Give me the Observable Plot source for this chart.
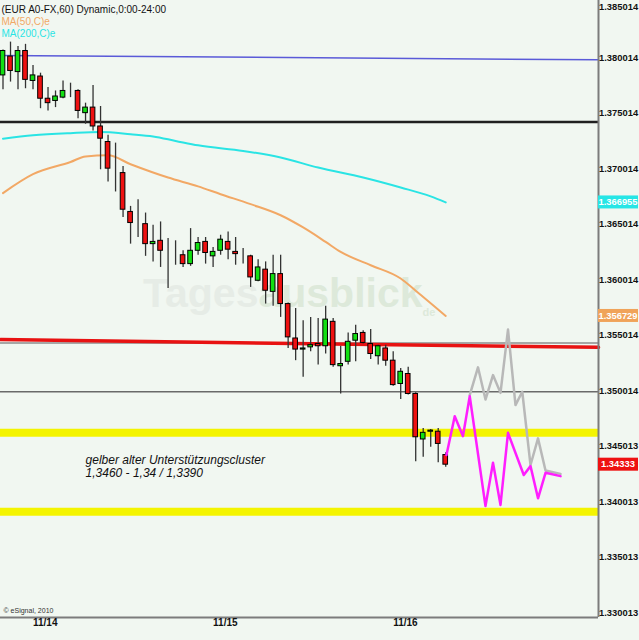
<!DOCTYPE html>
<html><head><meta charset="utf-8">
<script src="https://cdn.jsdelivr.net/npm/d3@7"></script>
<script src="https://cdn.jsdelivr.net/npm/@observablehq/plot@0.6"></script>
<style>
html,body{margin:0;padding:0;background:#f1f7f1;}
#wrap{position:relative;width:639px;height:640px;overflow:hidden;font-family:"Liberation Sans",Arial,sans-serif;}
.wm{position:absolute;left:143px;top:270px;font:bold 41px "Liberation Sans",Arial,sans-serif;color:#e6ece6;white-space:nowrap;}
.wm span{color:#dde9da;}
.wm sub{font-size:11px;color:#dde9da;}
#chart{position:absolute;left:0;top:0;}
</style></head><body>
<div id="wrap">
  <div class="wm">Tages<span>ausblick</span><sub>de</sub></div>
  <div id="chart"></div>
</div>
<script>
// ---- candles (hourly, EUR/USD) ----
const opens  = [1.3784,1.3801,1.3787,1.3806,1.3779,1.3783,1.3763,1.3761,1.3764,1.3770,
                1.3770,1.3750,1.3755,1.3738,1.3724,1.3700,1.3696,1.3661,1.3651,1.3650,
                1.3632,1.3635,1.3623,1.3623,1.3622,1.3614,1.3626,1.3634,1.3621,1.3626,
                1.3634,1.3625,1.3621,1.3621,1.3599,1.3609,1.3589,1.3605,1.3578,1.3547,
                1.3537,1.3539,1.3542,1.3540,1.3562,1.3522,1.3526,1.3545,1.3552,1.3542,
                1.3531,1.3538,1.3527,1.3506,1.3515,1.3497,1.3456,1.3463,1.3463,1.3442];
const highs  = [1.3807,1.3814,1.3810,1.3812,1.3793,1.3786,1.3773,1.3770,1.3779,1.3777,
                1.3771,1.3759,1.3775,1.3756,1.3730,1.3723,1.3702,1.3666,1.3672,1.3660,
                1.3649,1.3652,1.3637,1.3635,1.3626,1.3646,1.3638,1.3638,1.3629,1.3640,
                1.3643,1.3638,1.3628,1.3622,1.3618,1.3616,1.3622,1.3622,1.3579,1.3574,
                1.3563,1.3566,1.3565,1.3576,1.3565,1.3540,1.3552,1.3559,1.3554,1.3555,
                1.3541,1.3541,1.3535,1.3520,1.3521,1.3498,1.3466,1.3465,1.3466,1.3444];
const lows   = [1.3771,1.3778,1.3771,1.3772,1.3771,1.3754,1.3752,1.3755,1.3763,1.3764,
                1.3745,1.3740,1.3734,1.3699,1.3688,1.3679,1.3656,1.3632,1.3638,1.3621,
                1.3616,1.3611,1.3592,1.3613,1.3611,1.3612,1.3622,1.3614,1.3611,1.3622,
                1.3618,1.3613,1.3614,1.3593,1.3598,1.3578,1.3576,1.3566,1.3538,1.3527,
                1.3512,1.3535,1.3523,1.3533,1.3521,1.3497,1.3523,1.3526,1.3542,1.3528,
                1.3523,1.3522,1.3504,1.3492,1.3496,1.3436,1.3440,1.3449,1.3435,1.3431];
const closes = [1.3806,1.3788,1.3806,1.3780,1.3784,1.3763,1.3759,1.3765,1.3770,1.3770,
                1.3752,1.3755,1.3738,1.3727,1.3700,1.3700,1.3663,1.3651,1.3651,1.3632,
                1.3634,1.3626,1.3623,1.3623,1.3614,1.3626,1.3633,1.3624,1.3625,1.3636,
                1.3627,1.3623,1.3621,1.3602,1.3611,1.3590,1.3605,1.3578,1.3548,1.3537,
                1.3538,1.3541,1.3540,1.3564,1.3523,1.3524,1.3544,1.3551,1.3543,1.3533,
                1.3540,1.3527,1.3505,1.3517,1.3497,1.3458,1.3462,1.3464,1.3452,1.34333];

// ---- moving averages (read points, bar index -> value) ----
const ma50Bars  = [0,4,9,11,14,17,22,26,29,33,37,40,43,45,49,53,55,59];
const ma50Vals  = [1.3678,1.3695,1.3706,1.3711,1.3712,1.3704,1.3692,1.3684,1.3677,1.3668,
                   1.3658,1.3647,1.3634,1.3625,1.3613,1.3601,1.3590,1.356729];
const ma200Bars = [0,4,9,13,17,20,23,26,32,37,42,48,53,57,59];
const ma200Vals = [1.3727,1.3730,1.3732,1.3733,1.3731,1.3729,1.3725,1.3721,1.3716,1.3710,
                   1.3701,1.3692,1.3683,1.3675,1.366955];

// ---- hand-drawn projections ----
const magentaBars = [59.1,60.2,61.3,62.2,64.3,65.3,66.3,67.3,69.4,70.3,71.3,72.3,74.3];
const magentaVals = [1.3442,1.3477,1.3459,1.3495,1.3396,1.3435,1.3397,1.3462,1.3424,1.3432,1.3403,1.3426,1.3423];
const greyBars    = [62.2,63.3,64.3,65.3,66.3,67.3,68.3,69.2,70.3,71.3,72.3,74.3];
const greyVals    = [1.3496,1.3521,1.3492,1.3514,1.3498,1.3555,1.3487,1.3499,1.3433,1.3457,1.3428,1.3425];

// ---- horizontal levels ----
const yellowLevels   = [1.3462, 1.3391];
const blackLevel     = [1.3742];
const greyLevel      = [1.3543];
const darkGreyLevel  = [1.3499];
const blueLineVals   = [1.3802, 1.3798];   // left, right
const redLineVals    = [1.3546, 1.3539];   // left, right

// ---- axes ----
const viewBars = [-1/3, 79.36];
const priceRange = [1.329563, 1.385149];
const yTickLabels = ["1.385014","1.380014","1.375014","1.370014","1.365014","1.360014",
                     "1.355014","1.350014","1.345013","1.340013","1.335013","1.330013"];
const xTickBars = [4, 28, 52];
const xTickLabels = ["11/14", "11/15", "11/16"];

// ---- text ----
const legendLines = ["(EUR A0-FX,60) Dynamic,0:00-24:00", "MA(50,C)e", "MA(200,C)e"];
const legendColors = ["#111111", "#f2a865", "#2ae4e4"];
const noteText = "gelber alter Unterstützungscluster\n1,3460 - 1,34 / 1,3390";
const noteAnchor = {bar: 11, price: 1.34318};
const copyright = "© eSignal, 2010";
const priceTags = [
  {value: 1.366955, label: "1.366955", color: "#26e6e6"},
  {value: 1.356729, label: "1.356729", color: "#f0a35a"},
  {value: 1.34333,  label: "1.34333",  color: "#ee1111"}
];

const candles = opens.map((o, i) => ({i, o, h: highs[i], l: lows[i], c: closes[i]}));
const line = (xs, ys) => xs.map((x, k) => ({x, y: ys[k]}));
const font = '"Liberation Sans", Arial, sans-serif';

const yTicks = yTickLabels.map(Number);
const tickFont = {fontSize: 9.4, fontWeight: "bold", fill: "#111"};

const chart = Plot.plot({
  width: 639, height: 640,
  marginLeft: 0, marginRight: 41, marginTop: 0, marginBottom: 23,
  x: {domain: viewBars, axis: null},
  y: {domain: priceRange, axis: null},
  style: {background: "transparent", fontFamily: font, overflow: "visible"},
  marks: [
    Plot.ruleY(yellowLevels, {stroke: "#f4f400", strokeWidth: 8}),
    Plot.ruleY(greyLevel, {stroke: "#8c8c8c", strokeWidth: 1.5}),
    Plot.ruleY(darkGreyLevel, {stroke: "#6a6a6a", strokeWidth: 1.5}),
    Plot.ruleY(blackLevel, {stroke: "#202020", strokeWidth: 2.5}),
    Plot.line(line(viewBars, blueLineVals), {x: "x", y: "y", stroke: "#5a5ad8", strokeWidth: 1.5}),
    Plot.line(line(viewBars, redLineVals), {x: "x", y: "y", stroke: "#e81212", strokeWidth: 3.5}),
    Plot.line(line(ma50Bars, ma50Vals), {x: "x", y: "y", stroke: "#f2a865", strokeWidth: 2, curve: "monotone-x"}),
    Plot.line(line(ma200Bars, ma200Vals), {x: "x", y: "y", stroke: "#2ae4e4", strokeWidth: 2, curve: "monotone-x"}),
    Plot.ruleX(candles, {x: "i", y1: "l", y2: "h", stroke: "#333", strokeWidth: 1.3}),
    Plot.rect(candles, {
      x1: d => d.i - 0.31, x2: d => d.i + 0.31,
      y1: "o", y2: "c",
      fill: d => d.c > d.o ? "#12e012" : d.c < d.o ? "#ee1111" : "#000",
      stroke: "#000", strokeWidth: 1
    }),
    Plot.line(line(greyBars, greyVals), {x: "x", y: "y", stroke: "#b8b8b8", strokeWidth: 2.5}),
    Plot.line(line(magentaBars, magentaVals), {x: "x", y: "y", stroke: "#ff1eff", strokeWidth: 2.5}),
    Plot.text([noteText], {x: () => noteAnchor.bar, y: () => noteAnchor.price, text: d => d,
      textAnchor: "start", fontSize: 12, fontStyle: "italic", lineHeight: 1.12, fill: "#111"}),
    Plot.ruleX([viewBars[1]], {stroke: "#7c7c7c", strokeWidth: 2}),
    Plot.ruleY([priceRange[0]], {stroke: "#7c7c7c", strokeWidth: 2}),
    Plot.text(yTicks.slice(1), {y: d => d, text: (d, k) => yTickLabels[k + 1], frameAnchor: "right",
      dx: 0.5, textAnchor: "start", ...tickFont}),
    Plot.text(yTicks.slice(0, 1), {y: d => d, text: () => yTickLabels[0], frameAnchor: "right",
      dx: 0.5, dy: 4.5, textAnchor: "start", ...tickFont}),
    Plot.text(xTickBars, {x: d => d, text: (d, k) => xTickLabels[k], frameAnchor: "bottom",
      dy: 8, textAnchor: "start", ...tickFont, fontSize: 10}),
    Plot.text([copyright], {text: d => d, frameAnchor: "bottom-left", dx: 3, dy: -5,
      textAnchor: "start", fontSize: 7, fill: "#333"}),
    ...legendLines.map((t, k) => Plot.text([t], {text: d => d, frameAnchor: "top-left", dx: 1, dy: 5 + 12 * k,
      textAnchor: "start", fontSize: 10, fill: legendColors[k]}))
  ]
});

const ys = chart.scale("y");
const svg = d3.select(chart);
priceTags.forEach(t => {
  const y = ys.apply(t.value);
  svg.append("rect").attr("x", 598).attr("y", y - 6.5).attr("width", 40).attr("height", 13).attr("fill", t.color);
  svg.append("text").attr("x", 618).attr("y", y).attr("dy", "0.35em").attr("text-anchor", "middle")
    .attr("fill", "#fff").attr("font-size", 9.4).attr("font-weight", "bold").attr("font-family", font).text(t.label);
});

document.getElementById("chart").appendChild(chart);
</script>
</body></html>
